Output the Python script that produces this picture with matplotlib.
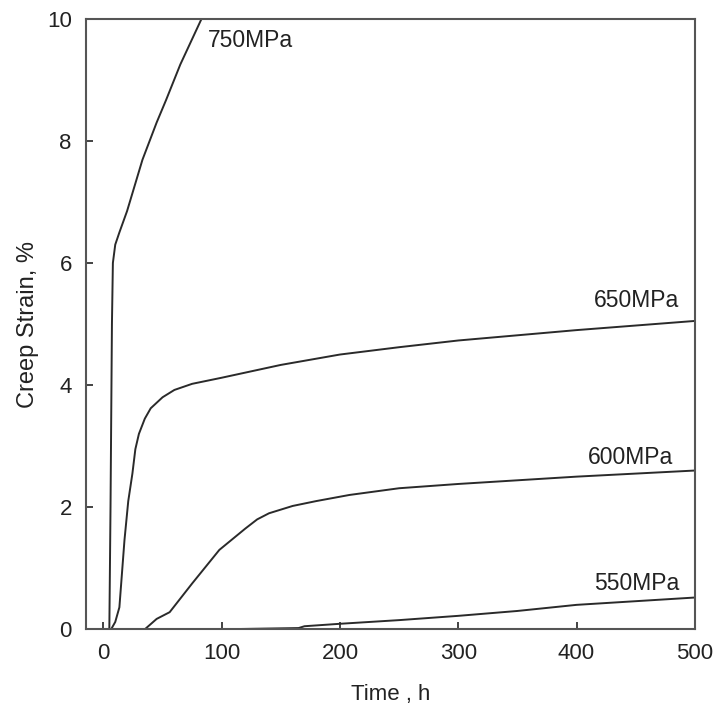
import matplotlib
matplotlib.use("Agg")
import matplotlib.pyplot as plt

plt.rcParams['font.family'] = ['Liberation Sans', 'DejaVu Sans']

# 750 MPa
t750 = [0, 5, 6, 7.2, 8, 10, 13.5, 20, 33, 45, 53, 65, 83]
e750 = [0, 0.0, 2.0, 5.0, 6.0, 6.3, 6.5, 6.85, 7.69, 8.3, 8.67, 9.25, 10.0]

# 650 MPa
t650 = [0, 6.5, 10, 13.5, 17.8, 21, 24.5, 27, 30, 35, 40, 50, 60, 75, 100,
        150, 200, 250, 300, 400, 500]
e650 = [0, 0.0, 0.12, 0.36, 1.46, 2.1, 2.55, 2.95, 3.2, 3.45, 3.62, 3.8, 3.92,
        4.02, 4.12, 4.33, 4.5, 4.62, 4.73, 4.9, 5.05]

# 600 MPa
t600 = [0, 35, 45, 56, 75, 98, 120, 130, 140, 160, 180, 208, 250, 300, 400, 500]
e600 = [0, 0.0, 0.17, 0.28, 0.75, 1.3, 1.65, 1.8, 1.9, 2.02, 2.1, 2.2, 2.31,
        2.38, 2.5, 2.6]

# 550 MPa
t550 = [0, 100, 165, 170, 200, 250, 300, 350, 400, 500]
e550 = [0, 0.0, 0.02, 0.05, 0.09, 0.15, 0.22, 0.3, 0.4, 0.52]

labels = ["750MPa", "650MPa", "600MPa", "550MPa"]
label_x = [88, 451, 446, 451]
label_y = [9.65, 5.39, 2.82, 0.75]

fig = plt.figure(figsize=(7.2, 7.2), dpi=100)
ax = fig.add_axes([0.119, 0.126, 0.846, 0.848])
lc = '#2a2a2a'
for t, e in [(t750, e750), (t650, e650), (t600, e600), (t550, e550)]:
    ax.plot(t, e, color=lc, lw=1.4)

ax.text(label_x[0], label_y[0], labels[0], fontsize=16.5, ha='left', va='center', color='#222222')
for i in range(1, 4):
    ax.text(label_x[i], label_y[i], labels[i], fontsize=16.5, ha='center', va='center', color='#222222')

ax.set_xlim(-15, 500)
ax.set_ylim(0, 10)
ax.set_xticks([0, 100, 200, 300, 400, 500])
ax.set_yticks([0, 2, 4, 6, 8, 10])
ax.tick_params(direction='in', length=5, width=1.2, labelsize=16, colors='#222222', pad=10)
for s in ax.spines.values():
    s.set_linewidth(1.5)
    s.set_color('#555555')
ax.set_xlabel('Time , h', fontsize=16, color='#222222', labelpad=14)
ax.set_ylabel('Creep Strain, %', fontsize=17, color='#222222', labelpad=6)

fig.savefig('out.png', dpi=100)
